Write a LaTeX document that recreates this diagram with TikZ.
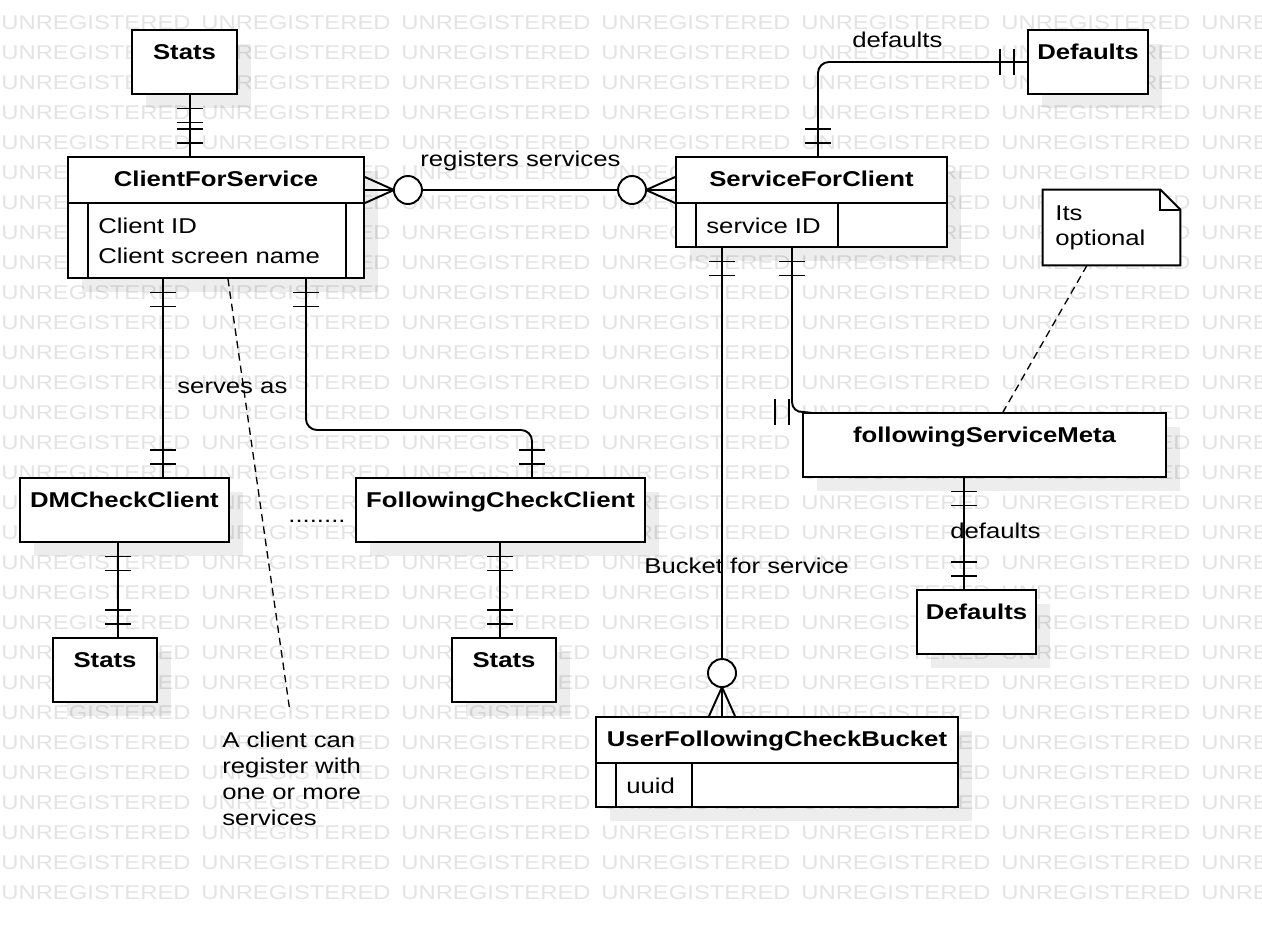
\documentclass[tikz,border=0pt]{standalone}
\usepackage{fontspec}
\setmainfont{Liberation Sans}[FakeStretch=1.2]
\usetikzlibrary{positioning,fit,shadows,decorations.markings}

\tikzset{
  entity/.style={draw, fill=white, line width=1.1pt, inner sep=0pt,
    drop shadow={shadow xshift=0.28cm, shadow yshift=-0.28cm, fill=black, opacity=0.07}},
  title/.style={font=\fontsize{12.2pt}{14.7pt}\selectfont\bfseries, anchor=base, inner sep=0pt},
  txt/.style={anchor=base west, inner sep=0pt},
  wm/.style={anchor=base west, inner sep=0pt, text=black!11,
    font=\fontsize{11.3pt}{13pt}\selectfont},
  ln/.style={line width=1.1pt, sharp corners},
  rel/.style={draw, line width=1.1pt, rounded corners=0.22cm},
  hint/.style={draw, line width=0.75pt, dash pattern=on 0.15cm off 0.1cm},
  one start/.style={postaction={decorate, decoration={markings,
      mark=at position 0.27cm with {\draw[ln] (0,-0.26cm) -- (0,0.26cm);},
      mark=at position 0.55cm with {\draw[ln] (0,-0.26cm) -- (0,0.26cm);}}}},
  one end/.style={postaction={decorate, decoration={markings,
      mark=at position -0.27cm with {\draw[ln] (0,-0.26cm) -- (0,0.26cm);},
      mark=at position -0.55cm with {\draw[ln] (0,-0.26cm) -- (0,0.26cm);}}}},
  many start/.style={postaction={decorate, decoration={markings,
      mark=at position 0.58cm with {\draw[ln] (-0.58cm,0.26cm) -- (0,0) -- (-0.58cm,-0.26cm);},
      mark=at position 0.86cm with {\draw[ln, fill=white] (0,0) circle (0.28cm);}}}},
  many end/.style={postaction={decorate, decoration={markings,
      mark=at position -0.58cm with {\draw[ln] (0.58cm,0.26cm) -- (0,0) -- (0.58cm,-0.26cm);},
      mark=at position -0.86cm with {\draw[ln, fill=white] (0,0) circle (0.28cm);}}}}
}

\begin{document}
\begin{tikzpicture}[x=0.02cm, y=-0.02cm, font=\fontsize{12.2pt}{14.7pt}\selectfont]
  \useasboundingbox (0,0) rectangle (1262,924);
  \clip (0,0) rectangle (1262,924);
  % watermark
  \foreach \r in {0,...,29}
    \foreach \c in {0,...,6}
      \node[wm] (wm-\r-\c) at (1+200*\c, 29+30*\r) {UNREGISTERED};

  % entities
  \node[entity, fit={(132,30) (237,94)}] (statsA) {};
  \node[entity, fit={(68,157) (364,278)}] (cfs) {};
  \node[entity, fit={(676,157) (947,247)}] (sfc) {};
  \node[entity, fit={(1028,30) (1148,94)}] (defaultsA) {};
  \node[entity, fit={(803,413) (1166,477)}] (fsm) {};
  \node[entity, fit={(20,478) (229,542)}] (dm) {};
  \node[entity, fit={(356,478) (645,542)}] (fcc) {};
  \node[entity, fit={(53,638) (157,702)}] (statsB) {};
  \node[entity, fit={(452,638) (556,702)}] (statsC) {};
  \node[entity, fit={(917,590) (1036,654)}] (defaultsB) {};
  \node[entity, fit={(596,717) (958,807)}] (bucket) {};

  \draw[ln] (cfs.west |- 0,203) -- (cfs.east |- 0,203)
    (88,203) -- (cfs.south -| 88,0) (346,203) -- (cfs.south -| 346,0);
  \draw[ln] (sfc.west |- 0,203) -- (sfc.east |- 0,203)
    (696,203) -- (sfc.south -| 696,0) (838,203) -- (sfc.south -| 838,0);
  \draw[ln] (bucket.west |- 0,763) -- (bucket.east |- 0,763)
    (616,763) -- (bucket.south -| 616,0) (692,763) -- (bucket.south -| 692,0);

  \node[title] (statsAT) at (184.5,59) {Stats};
  \node[title] (cfsT) at (216,186) {ClientForService};
  \node[title] (sfcT) at (811.5,186) {ServiceForClient};
  \node[title] (defaultsAT) at (1088,59) {Defaults};
  \node[title] (fsmT) at (984.5,442) {followingServiceMeta};
  \node[title] (dmT) at (124.5,507) {DMCheckClient};
  \node[title] (fccT) at (500.5,507) {FollowingCheckClient};
  \node[title] (statsBT) at (105,667) {Stats};
  \node[title] (statsCT) at (504,667) {Stats};
  \node[title] (defaultsBT) at (976.5,619) {Defaults};
  \node[title] (bucketT) at (777,746) {UserFollowingCheckBucket};

  \node[txt] (cfsId) at (98,233) {Client ID};
  \node[txt] (cfsName) at (98,263) {Client screen name};
  \node[txt] (sfcId) at (706,233) {service ID};
  \node[txt] (bucketId) at (626,793) {uuid};

  % note
  \node[fit={(1043,190) (1180,265)}, inner sep=0pt] (note) {};
  \draw[ln, fill=white] (note.south west) -- (note.north west) -- ([xshift=-0.4cm]note.north east)
    -- ([yshift=-0.4cm]note.north east) -- (note.south east) -- cycle;
  \draw[ln] ([xshift=-0.4cm]note.north east) |- ([yshift=-0.4cm]note.north east);
  \node[txt] (note1) at (1055,220) {Its};
  \node[txt] (note2) at (1055,245) {optional};

  % relations
  \draw[rel, one start, one end] (statsA.south -| 190,0) -- (cfs.north -| 190,0);
  \draw[rel, many start, many end] (cfs.east |- 0,190) -- (sfc.west |- 0,190);
  \draw[rel, one start, one end] (cfs.south -| 163,0) -- (dm.north -| 163,0);
  \draw[rel, one start, one end] (cfs.south -| 306,0) -- (306,430) -- (532,430) -- (fcc.north -| 532,0);
  \draw[rel, one start, one end] (dm.south -| 118,0) -- (statsB.north -| 118,0);
  \draw[rel, one start, one end] (fcc.south -| 500,0) -- (statsC.north -| 500,0);
  \draw[rel, one start, one end] (sfc.north -| 818,0) -- (818,62) -- (defaultsA.west);
  \draw[rel, one start] (sfc.south -| 792,0) -- (792,413) -- (fsm.north west);
  \foreach \d in {0.27,0.55}
    \draw[ln] ([shift={(-\d cm,0.26cm)}]fsm.north west) -- ++(0,-0.52cm);
  \draw[rel, one start, many end] (sfc.south -| 722,0) -- (bucket.north -| 722,0);
  \draw[rel, one start, one end] (fsm.south -| 964,0) -- (defaultsB.north -| 964,0);

  \node[txt] (lblReg) at (420,166) {registers services};
  \node[txt] (lblDefA) at (852,47) {defaults};
  \node[txt] (lblServes) at (177,393) {serves as};
  \node[txt] (lblBucket) at (644,573) {Bucket for service};
  \node[txt] (lblDefB) at (950,538) {defaults};
  \node[txt] (dots) at (288,522) {........};

  % comments
  \coordinate (cnoteTip) at (290,712);
  \draw[hint] (cfs.south -| 228,0) -- (cnoteTip);
  \draw[hint] (note.south -| 1087,0) -- (fsm.north -| 1003,0);
  \node[txt] (cnote1) at (222,747) {A client can};
  \node[txt] (cnote2) at (222,773) {register with};
  \node[txt] (cnote3) at (222,799) {one or more};
  \node[txt] (cnote4) at (222,825) {services};
\end{tikzpicture}
\end{document}
